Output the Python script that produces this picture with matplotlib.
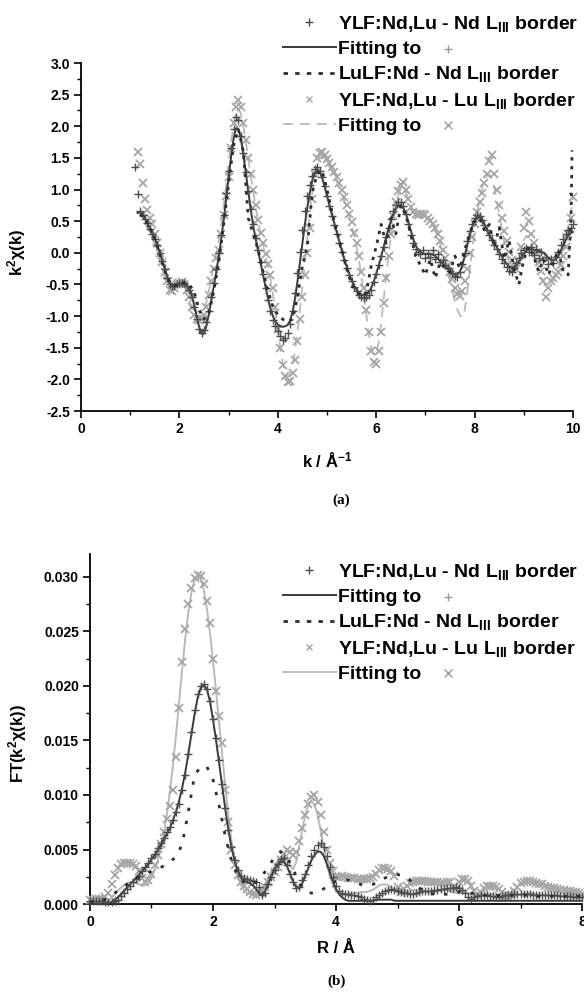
import numpy as np
import matplotlib
matplotlib.use("Agg")
import matplotlib.pyplot as plt
from matplotlib.lines import Line2D
from matplotlib.ticker import MultipleLocator, FormatStrFormatter
from matplotlib.transforms import IdentityTransform

plt.rcParams['font.family'] = ['Liberation Sans', 'DejaVu Sans']
plt.rcParams['font.weight'] = 'bold'
plt.rcParams['mathtext.fontset'] = 'custom'
plt.rcParams['mathtext.rm'] = 'Liberation Sans:bold'
plt.rcParams['mathtext.it'] = 'Liberation Sans:bold'
plt.rcParams['mathtext.bf'] = 'Liberation Sans:bold'
plt.rcParams['mathtext.default'] = 'rm'
plt.rcParams['axes.unicode_minus'] = False

# ---------------- (a) k-space, step 0.05 A^-1 ----------------
# YLF:Nd,Lu - Nd L_III data (+), starts at k = 1.10
nd_k_start = 1.10
nd_k_data = [
    1.36, 0.93, 0.66, 0.60, 0.54, 0.47, 0.38, 0.30, 0.22, 0.12,
    0.00, -0.13, -0.26, -0.40, -0.49, -0.52, -0.53, -0.50, -0.48, -0.47,
    -0.48, -0.52, -0.58, -0.70, -0.86, -1.04, -1.20, -1.26, -1.22, -1.10,
    -0.92, -0.70, -0.48, -0.26, 0.00, 0.28, 0.60, 0.95, 1.30, 1.65,
    1.95, 2.15, 2.10, 1.85, 1.58, 1.28, 0.98, 0.70, 0.45, 0.24,
    0.05, -0.15, -0.34, -0.55, -0.75, -0.92, -1.06, -1.16, -1.24, -1.32,
    -1.38, -1.35, -1.26, -1.12, -0.92, -0.64, -0.32, 0.02, 0.36, 0.66,
    0.90, 1.08, 1.22, 1.32, 1.36, 1.30, 1.20, 1.06, 0.90, 0.74,
    0.58, 0.44, 0.30, 0.16, 0.02, -0.12, -0.24, -0.35, -0.45, -0.54,
    -0.60, -0.66, -0.70, -0.72, -0.70, -0.66, -0.58, -0.46, -0.34, -0.20,
    -0.05, 0.10, 0.25, 0.40, 0.54, 0.66, 0.75, 0.80, 0.80, 0.74,
    0.62, 0.45, 0.28, 0.15, 0.06, 0.02, -0.02, 0.05, -0.08, 0.00,
    -0.06, 0.04, -0.10, -0.02, -0.15, -0.12, -0.20, -0.24, -0.28, -0.32,
    -0.36, -0.38, -0.30, -0.18, 0.00, 0.18, 0.34, 0.46, 0.55, 0.60,
    0.58, 0.52, 0.44, 0.36, 0.28, 0.20, 0.12, 0.06, -0.02, -0.10,
    -0.16, -0.22, -0.28, -0.30, -0.24, -0.16, -0.08, 0.00, 0.04, 0.08,
    0.02, 0.10, -0.04, 0.06, -0.08, 0.02, -0.12, -0.06, -0.18, -0.10,
    -0.16, -0.06, 0.02, 0.12, 0.22, 0.30, 0.36, 0.40, 0.45,
]

# fit to the + data, starts at k = 1.15
nd_k_fit_start = 1.15
nd_k_fit = [
    0.63, 0.64, 0.62, 0.55, 0.47, 0.39, 0.31, 0.24, 0.13, 0.01,
    -0.12, -0.25, -0.38, -0.47, -0.51, -0.52, -0.51, -0.50, -0.49, -0.49,
    -0.51, -0.56, -0.66, -0.82, -1.00, -1.17, -1.28, -1.27, -1.15, -0.96,
    -0.74, -0.52, -0.30, -0.05, 0.22, 0.52, 0.85, 1.18, 1.52, 1.80,
    1.97, 1.96, 1.80, 1.55, 1.26, 0.96, 0.68, 0.43, 0.22, 0.03,
    -0.16, -0.35, -0.54, -0.72, -0.88, -1.00, -1.08, -1.13, -1.16, -1.17,
    -1.16, -1.14, -1.07, -0.93, -0.72, -0.45, -0.15, 0.15, 0.45, 0.72,
    0.95, 1.14, 1.26, 1.31, 1.28, 1.19, 1.05, 0.90, 0.75, 0.60,
    0.46, 0.32, 0.18, 0.04, -0.10, -0.22, -0.33, -0.43, -0.52, -0.58,
    -0.63, -0.66, -0.67, -0.66, -0.62, -0.55, -0.45, -0.33, -0.20, -0.06,
    0.09, 0.24, 0.38, 0.51, 0.62, 0.70, 0.74, 0.75, 0.71, 0.63,
    0.50, 0.36, 0.23, 0.12, 0.05, 0.01, -0.01, -0.02, -0.02, -0.02,
    -0.03, -0.05, -0.09, -0.13, -0.17, -0.21, -0.25, -0.29, -0.32, -0.34,
    -0.34, -0.30, -0.20, -0.05, 0.12, 0.28, 0.41, 0.51, 0.56, 0.57,
    0.53, 0.45, 0.36, 0.28, 0.21, 0.15, 0.09, 0.02, -0.05, -0.12,
    -0.17, -0.21, -0.23, -0.23, -0.20, -0.14, -0.07, -0.01, 0.03, 0.05,
    0.06, 0.05, 0.04, 0.03, 0.02, 0.00, -0.04, -0.08, -0.11, -0.12,
    -0.10, -0.05, 0.03, 0.12, 0.20, 0.27, 0.31, 0.33,
]

# LuLF:Nd - Nd L_III (dotted), step 0.1 from k = 1.2, plus the steep end
lulf_k_start = 1.2
lulf_k = [
    0.60, 0.55, 0.40, 0.22, -0.02, -0.28, -0.46, -0.52, -0.50, -0.47,
    -0.50, -0.62, -0.90, -1.05, -0.95, -0.60, -0.15, 0.45, 1.10, 1.70,
    1.95, 1.60, 0.55, 0.30, 0.05, -0.30, -0.60, -0.85, -0.98, -1.05,
    -1.08, -1.05, -0.70, -0.20, 0.10, 0.95, 1.25, 1.30, 1.00, 0.65,
    0.35, 0.05, -0.25, -0.50, -0.62, -0.68, -0.62, -0.20, 0.10, 0.45,
    0.15, 0.55, 0.30, 0.75, 0.60, 0.30, -0.05, -0.20, -0.35, -0.10,
    -0.40, -0.15, -0.25, -0.30, -0.05, -0.25, 0.05, 0.30, 0.50, 0.55,
    0.35, 0.45, 0.10, 0.40, -0.10, 0.20, -0.25, -0.50, -0.10, 0.10,
    -0.05, -0.30, -0.10, -0.35, -0.15, 0.05, -0.30, -0.35,
]
lulf_k_tail_x = [9.96, 9.98]
lulf_k_tail = [0.55, 1.62]

# YLF:Nd,Lu - Lu L_III data (x), starts at k = 1.15
lu_k_start = 1.15
lu_k_data = [
    1.60, 1.40, 1.10, 0.85, 0.68, 0.55, 0.46, 0.30, 0.15, 0.00,
    -0.15, -0.30, -0.45, -0.58, -0.60, -0.56, -0.50, -0.47, -0.46, -0.50,
    -0.58, -0.70, -0.85, -0.98, -1.04, -1.06, -1.05, -0.98, -0.85, -0.66,
    -0.45, -0.25, -0.08, 0.05, 0.30, 0.60, 0.90, 1.20, 1.65, 2.05,
    2.30, 2.42, 2.30, 2.05, 1.78, 1.50, 1.25, 1.00, 0.75, 0.52,
    0.32, 0.15, -0.02, -0.18, -0.35, -0.55, -0.85, -1.20, -1.50, -1.78,
    -1.95, -2.04, -2.02, -1.90, -1.70, -1.40, -1.05, -0.70, -0.35, 0.00,
    0.40, 0.85, 1.25, 1.50, 1.58, 1.60, 1.55, 1.48, 1.42, 1.35,
    1.27, 1.20, 1.10, 1.00, 0.88, 0.75, 0.62, 0.48, 0.32, 0.15,
    -0.05, -0.30, -0.55, -0.90, -1.25, -1.55, -1.72, -1.75, -1.55, -1.25,
    -0.80, -0.40, -0.05, 0.30, 0.58, 0.80, 0.98, 1.08, 1.12, 1.00,
    0.85, 0.72, 0.65, 0.62, 0.60, 0.62, 0.62, 0.60, 0.55, 0.50,
    0.45, 0.40, 0.30, 0.18, 0.05, -0.08, -0.20, -0.30, -0.42, -0.55,
    -0.65, -0.68, -0.60, -0.45, -0.25, 0.00, 0.25, 0.45, 0.65, 0.80,
    0.95, 1.10, 1.25, 1.45, 1.55, 1.25, 1.00, 0.75, 0.55, 0.35,
    0.18, 0.02, -0.12, -0.22, -0.25, -0.15, 0.10, 0.40, 0.65, 0.50,
    0.30, 0.15, 0.00, -0.15, -0.28, -0.45, -0.70, -0.55, -0.45, -0.40,
    -0.35, -0.30, -0.20, -0.05, 0.10, 0.30, 0.55, 0.88,
]

# fit to the x data, starts at k = 1.30
lu_k_fit_start = 1.30
lu_k_fit = [
    0.47, 0.40, 0.32, 0.22, 0.11, 0.00, -0.12, -0.25, -0.37, -0.47,
    -0.54, -0.57, -0.56, -0.52, -0.49, -0.49, -0.53, -0.62, -0.75, -0.88,
    -0.98, -1.04, -1.05, -1.01, -0.92, -0.78, -0.60, -0.40, -0.20, 0.00,
    0.20, 0.45, 0.75, 1.08, 1.42, 1.75, 2.03, 2.22, 2.28, 2.20,
    2.00, 1.75, 1.48, 1.22, 0.97, 0.73, 0.50, 0.30, 0.12, -0.05,
    -0.22, -0.42, -0.65, -0.92, -1.22, -1.50, -1.74, -1.90, -1.96, -1.92,
    -1.78, -1.55, -1.25, -0.90, -0.52, -0.14, 0.25, 0.62, 0.95, 1.22,
    1.40, 1.50, 1.52, 1.49, 1.43, 1.36, 1.29, 1.21, 1.13, 1.04,
    0.94, 0.83, 0.71, 0.58, 0.44, 0.28, 0.10, -0.12, -0.38, -0.68,
    -0.98, -1.28, -1.50, -1.62, -1.60, -1.42, -1.12, -0.75, -0.38, -0.04,
    0.27, 0.54, 0.76, 0.92, 1.02, 1.04, 0.97, 0.86, 0.75, 0.67,
    0.62, 0.60, 0.60, 0.60, 0.58, 0.55, 0.50, 0.44, 0.36, 0.26,
    0.14, 0.01, -0.13, -0.28, -0.44, -0.60, -0.76, -0.90, -0.99, -1.02,
    -0.90, -0.62, -0.28, 0.05, 0.36, 0.62, 0.84, 1.02, 1.15, 1.22,
    1.24, 1.18, 1.04, 0.84, 0.61, 0.38, 0.17, -0.01, -0.15, -0.24,
    -0.27, -0.22, -0.10, 0.06, 0.20, 0.27, 0.25, 0.16, 0.03, -0.11,
    -0.25, -0.37, -0.46, -0.51, -0.52, -0.49, -0.43, -0.35, -0.25, -0.13,
    0.02, 0.20, 0.40, 0.62, 0.85,
]

# ---------------- (b) R-space, step 0.05 A from R = 0 ----------------
nd_r_data = [
    0.0003, 0.0003, 0.0003, 0.0003, 0.0003, 0.0002, 0.0002, 0.0002, 0.0003, 0.0004,
    0.0007, 0.0010, 0.0014, 0.0017, 0.0020, 0.0023, 0.0026, 0.0030, 0.0034, 0.0038,
    0.0042, 0.0046, 0.0051, 0.0056, 0.0061, 0.0066, 0.0071, 0.0077, 0.0084, 0.0092,
    0.0105, 0.0118, 0.0138, 0.0158, 0.0178, 0.0193, 0.0200, 0.0202, 0.0197, 0.0186,
    0.0170, 0.0152, 0.0132, 0.0110, 0.0088, 0.0068, 0.0052, 0.0040, 0.0031, 0.0026,
    0.0024, 0.0023, 0.0022, 0.0021, 0.0020, 0.0016, 0.0008, 0.0010, 0.0018, 0.0025,
    0.0031, 0.0037, 0.0041, 0.0042, 0.0036, 0.0028, 0.0020, 0.0015, 0.0016, 0.0022,
    0.0028, 0.0036, 0.0044, 0.0050, 0.0054, 0.0056, 0.0052, 0.0044, 0.0034, 0.0025,
    0.0017, 0.0012, 0.0010, 0.0009, 0.0009, 0.0008, 0.0008, 0.0007, 0.0006, 0.0005,
    0.0004, 0.0003, 0.0004, 0.0006, 0.0008, 0.0010, 0.0012, 0.0013, 0.0014, 0.0013,
    0.0012, 0.0011, 0.0010, 0.0010, 0.0009, 0.0009, 0.0010, 0.0011, 0.0012, 0.0012,
    0.0012, 0.0012, 0.0013, 0.0013, 0.0014, 0.0014, 0.0015, 0.0015, 0.0015, 0.0016,
    0.0015, 0.0013, 0.0010, 0.0006, 0.0005, 0.0006, 0.0007, 0.0008, 0.0008, 0.0008,
    0.0007, 0.0007, 0.0006, 0.0006, 0.0007, 0.0008, 0.0008, 0.0009, 0.0009, 0.0009,
    0.0009, 0.0009, 0.0009, 0.0009, 0.0008, 0.0008, 0.0008, 0.0008, 0.0008, 0.0008,
    0.0008, 0.0008, 0.0008, 0.0007, 0.0007, 0.0007, 0.0007, 0.0006, 0.0006, 0.0006,
    0.0006,
]

nd_r_fit = [
    0.0000, 0.0000, 0.0000, 0.0000, 0.0000, 0.0000, 0.0001, 0.0002, 0.0004, 0.0006,
    0.0009, 0.0012, 0.0015, 0.0018, 0.0021, 0.0024, 0.0027, 0.0030, 0.0033, 0.0037,
    0.0041, 0.0045, 0.0049, 0.0054, 0.0059, 0.0064, 0.0070, 0.0077, 0.0085, 0.0095,
    0.0107, 0.0121, 0.0138, 0.0156, 0.0174, 0.0189, 0.0198, 0.0201, 0.0197, 0.0186,
    0.0169, 0.0150, 0.0129, 0.0108, 0.0087, 0.0068, 0.0052, 0.0040, 0.0031, 0.0025,
    0.0022, 0.0020, 0.0019, 0.0017, 0.0014, 0.0010, 0.0008, 0.0012, 0.0019, 0.0026,
    0.0032, 0.0036, 0.0039, 0.0039, 0.0035, 0.0028, 0.0021, 0.0016, 0.0015, 0.0019,
    0.0026, 0.0033, 0.0040, 0.0045, 0.0048, 0.0048, 0.0044, 0.0037, 0.0029, 0.0021,
    0.0014, 0.0009, 0.0006, 0.0004, 0.0003, 0.0003, 0.0003, 0.0003, 0.0003, 0.0003,
    0.0003, 0.0003, 0.0003, 0.0004, 0.0004, 0.0004, 0.0004, 0.0004, 0.0004, 0.0003,
    0.0003, 0.0003, 0.0003, 0.0003, 0.0003, 0.0003, 0.0003, 0.0003, 0.0003, 0.0003,
    0.0003, 0.0003, 0.0003, 0.0003, 0.0003, 0.0003, 0.0003, 0.0003, 0.0003, 0.0003,
    0.0003, 0.0003, 0.0003, 0.0003, 0.0003, 0.0003, 0.0003, 0.0003, 0.0003, 0.0003,
    0.0003, 0.0003, 0.0003, 0.0003, 0.0003, 0.0003, 0.0003, 0.0003, 0.0003, 0.0003,
    0.0003, 0.0003, 0.0003, 0.0003, 0.0003, 0.0003, 0.0003, 0.0003, 0.0003, 0.0003,
    0.0003, 0.0003, 0.0003, 0.0003, 0.0003, 0.0003, 0.0003, 0.0003, 0.0003, 0.0003,
    0.0003,
]

# LuLF:Nd dotted, step 0.1 from R = 0
lulf_r = [
    0.0002, 0.0002, 0.0003, 0.0006, 0.0010, 0.0014, 0.0018, 0.0022, 0.0025, 0.0028,
    0.0030, 0.0032, 0.0035, 0.0039, 0.0043, 0.0055, 0.0085, 0.0118, 0.0126, 0.0126,
    0.0114, 0.0090, 0.0062, 0.0040, 0.0026, 0.0020, 0.0018, 0.0020, 0.0026, 0.0034,
    0.0043, 0.0048, 0.0044, 0.0032, 0.0020, 0.0012, 0.0010, 0.0011, 0.0014, 0.0018,
    0.0021, 0.0022, 0.0022, 0.0020, 0.0018, 0.0017, 0.0018, 0.0021, 0.0024, 0.0026,
    0.0027, 0.0026, 0.0022, 0.0017, 0.0013, 0.0010, 0.0009, 0.0009, 0.0009, 0.0010,
    0.0011, 0.0011, 0.0010, 0.0009, 0.0008, 0.0008, 0.0008, 0.0008, 0.0008, 0.0008,
    0.0008, 0.0008, 0.0007, 0.0007, 0.0007, 0.0007, 0.0007, 0.0007, 0.0007, 0.0007,
    0.0007,
]

lu_r_data = [
    0.0004, 0.0004, 0.0005, 0.0005, 0.0005, 0.0006, 0.0010, 0.0018, 0.0027, 0.0033,
    0.0037, 0.0038, 0.0038, 0.0038, 0.0037, 0.0035, 0.0030, 0.0024, 0.0020, 0.0022,
    0.0028, 0.0036, 0.0045, 0.0055, 0.0066, 0.0078, 0.0090, 0.0105, 0.0135, 0.0180,
    0.0222, 0.0252, 0.0275, 0.0290, 0.0299, 0.0302, 0.0301, 0.0293, 0.0278, 0.0258,
    0.0225, 0.0195, 0.0172, 0.0148, 0.0105, 0.0075, 0.0050, 0.0036, 0.0027, 0.0020,
    0.0017, 0.0014, 0.0011, 0.0009, 0.0008, 0.0010, 0.0012, 0.0016, 0.0020, 0.0025,
    0.0029, 0.0034, 0.0040, 0.0046, 0.0050, 0.0048, 0.0045, 0.0048, 0.0058, 0.0070,
    0.0082, 0.0092, 0.0098, 0.0100, 0.0094, 0.0082, 0.0066, 0.0050, 0.0038, 0.0030,
    0.0025, 0.0025, 0.0026, 0.0025, 0.0024, 0.0024, 0.0024, 0.0023, 0.0023, 0.0023,
    0.0023, 0.0024, 0.0025, 0.0028, 0.0031, 0.0033, 0.0033, 0.0032, 0.0030, 0.0026,
    0.0016, 0.0011, 0.0014, 0.0017, 0.0019, 0.0020, 0.0021, 0.0021, 0.0021, 0.0021,
    0.0020, 0.0020, 0.0020, 0.0020, 0.0019, 0.0019, 0.0020, 0.0020, 0.0016, 0.0014,
    0.0020, 0.0023, 0.0023, 0.0021, 0.0017, 0.0012, 0.0008, 0.0010, 0.0015, 0.0017,
    0.0017, 0.0017, 0.0016, 0.0014, 0.0011, 0.0008, 0.0006, 0.0008, 0.0012, 0.0016,
    0.0019, 0.0020, 0.0021, 0.0021, 0.0020, 0.0019, 0.0018, 0.0018, 0.0017, 0.0016,
    0.0015, 0.0015, 0.0014, 0.0013, 0.0013, 0.0012, 0.0012, 0.0011, 0.0011, 0.0010,
    0.0009,
]

lu_r_fit = [
    0.0000, 0.0000, 0.0000, 0.0000, 0.0000, 0.0001, 0.0003, 0.0006, 0.0009, 0.0012,
    0.0015, 0.0017, 0.0019, 0.0020, 0.0020, 0.0019, 0.0018, 0.0017, 0.0017, 0.0019,
    0.0024, 0.0031, 0.0040, 0.0051, 0.0065, 0.0082, 0.0103, 0.0128, 0.0156, 0.0186,
    0.0216, 0.0244, 0.0268, 0.0286, 0.0297, 0.0301, 0.0298, 0.0288, 0.0271, 0.0249,
    0.0223, 0.0195, 0.0166, 0.0137, 0.0108, 0.0081, 0.0058, 0.0040, 0.0027, 0.0018,
    0.0013, 0.0010, 0.0009, 0.0009, 0.0010, 0.0012, 0.0015, 0.0019, 0.0024, 0.0030,
    0.0035, 0.0040, 0.0043, 0.0044, 0.0040, 0.0035, 0.0032, 0.0038, 0.0052, 0.0068,
    0.0082, 0.0091, 0.0094, 0.0091, 0.0082, 0.0068, 0.0052, 0.0037, 0.0025, 0.0017,
    0.0012, 0.0010, 0.0009, 0.0009, 0.0009, 0.0010, 0.0010, 0.0010, 0.0011, 0.0011,
    0.0011, 0.0012, 0.0013, 0.0015, 0.0017, 0.0018, 0.0018, 0.0017, 0.0015, 0.0013,
    0.0011, 0.0010, 0.0010, 0.0011, 0.0012, 0.0013, 0.0013, 0.0013, 0.0012, 0.0012,
    0.0011, 0.0011, 0.0011, 0.0012, 0.0012, 0.0013, 0.0013, 0.0012, 0.0011, 0.0010,
    0.0010, 0.0011, 0.0011, 0.0010, 0.0009, 0.0008, 0.0007, 0.0007, 0.0008, 0.0009,
    0.0009, 0.0009, 0.0008, 0.0007, 0.0006, 0.0005, 0.0005, 0.0006, 0.0007, 0.0008,
    0.0009, 0.0010, 0.0010, 0.0010, 0.0010, 0.0009, 0.0009, 0.0009, 0.0008, 0.0008,
    0.0008, 0.0008, 0.0007, 0.0007, 0.0007, 0.0007, 0.0006, 0.0006, 0.0006, 0.0006,
    0.0006,
]

labels = [r'YLF:Nd,Lu - Nd L$_{\rm III}$ border', 'Fitting to',
          r'LuLF:Nd - Nd L$_{\rm III}$ border', r'YLF:Nd,Lu - Lu L$_{\rm III}$ border',
          'Fitting to']

DARK = '#4d4d4d'
FIT_DARK = '#3a3a3a'
DOTS = '#2e2e2e'
LIGHT = '#a6a6a6'
FIT_LIGHT = '#b9b9b9'


def grid(start, step, values):
    return np.round(start + step * np.arange(len(values)), 3)


def style_axes(ax):
    ax.spines['top'].set_visible(False)
    ax.spines['right'].set_visible(False)
    for s in ('left', 'bottom'):
        ax.spines[s].set_linewidth(1.3)
    ax.tick_params(which='major', direction='out', length=5, width=1.2,
                   labelsize=10, pad=3)
    ax.tick_params(which='minor', direction='out', length=3, width=1.0)
    for t in ax.get_xticklabels() + ax.get_yticklabels():
        t.set_fontweight('bold')


fig = plt.figure(figsize=(5.84, 9.94), dpi=100)

# ---------------- panel (a) ----------------
ax1 = fig.add_axes([0.1387, 0.5865, 0.8425, 0.3501])
ax1.plot(grid(lu_k_fit_start, 0.05, lu_k_fit), lu_k_fit, color=FIT_LIGHT, lw=1.3,
         ls=(0, (5.5, 3.9)), zorder=2, clip_on=False)
ax1.plot(grid(lu_k_start, 0.05, lu_k_data), lu_k_data, ls='none', marker='x',
         ms=6, mew=1.3, color=LIGHT, zorder=3, clip_on=False)
ax1.plot(grid(nd_k_fit_start, 0.05, nd_k_fit), nd_k_fit, color=FIT_DARK, lw=1.4,
         zorder=4, clip_on=False)
ax1.plot(grid(nd_k_start, 0.05, nd_k_data), nd_k_data, ls='none', marker='+',
         ms=6, mew=1.0, color=DARK, zorder=5, clip_on=False)
ax1.plot(list(grid(lulf_k_start, 0.1, lulf_k)) + lulf_k_tail_x, lulf_k + lulf_k_tail,
         color=DOTS, lw=2.0, ls=(0, (1.2, 2.0)), zorder=6, clip_on=False)

ax1.set_xlim(0, 10)
ax1.set_ylim(-2.5, 3.0)
ax1.xaxis.set_major_locator(MultipleLocator(2))
ax1.xaxis.set_minor_locator(MultipleLocator(1))
ax1.yaxis.set_major_locator(MultipleLocator(0.5))
ax1.yaxis.set_minor_locator(MultipleLocator(0.25))
ax1.yaxis.set_major_formatter(FormatStrFormatter('%.1f'))
style_axes(ax1)
ax1.set_xlabel(r'k / Å$^{-1}$', fontsize=12, fontweight='bold')
ax1.set_ylabel(r'k$^2$χ(k)', fontsize=12, fontweight='bold')
ax1.xaxis.set_label_coords(0.5, -0.115)
ax1.yaxis.set_label_coords(-0.108, 0.455)

# ---------------- panel (b) ----------------
ax2 = fig.add_axes([0.1541, 0.0905, 0.8425, 0.3522])
ax2.plot(grid(0, 0.05, lu_r_fit), lu_r_fit, color=FIT_LIGHT, lw=1.4, zorder=2,
         clip_on=False)
ax2.plot(grid(0, 0.05, lu_r_data), lu_r_data, ls='none', marker='x', ms=6,
         mew=1.3, color=LIGHT, zorder=3, clip_on=False)
ax2.plot(grid(0, 0.05, nd_r_fit), nd_r_fit, color=FIT_DARK, lw=1.4, zorder=4,
         clip_on=False)
ax2.plot(grid(0, 0.05, nd_r_data), nd_r_data, ls='none', marker='+', ms=6,
         mew=1.0, color=DARK, zorder=5, clip_on=False)
ax2.plot(grid(0, 0.1, lulf_r), lulf_r, color=DOTS, lw=2.0, ls=(0, (1.2, 3.6)),
         zorder=6, clip_on=False)

ax2.set_xlim(0, 8)
ax2.set_ylim(0, 0.0321)
ax2.xaxis.set_major_locator(MultipleLocator(2))
ax2.xaxis.set_minor_locator(MultipleLocator(1))
ax2.yaxis.set_major_locator(MultipleLocator(0.005))
ax2.yaxis.set_minor_locator(MultipleLocator(0.0025))
ax2.yaxis.set_major_formatter(FormatStrFormatter('%.3f'))
style_axes(ax2)
ax2.set_xlabel('R / Å', fontsize=12, fontweight='bold')
ax2.set_ylabel(r'FT(k$^2$χ(k))', fontsize=12, fontweight='bold')
ax2.xaxis.set_label_coords(0.5, -0.106)
ax2.yaxis.set_label_coords(-0.124, 0.457)

fig.text(341 / 584, 1 - 500 / 994, '(a)', family='Liberation Serif',
         fontweight='bold', fontsize=11, ha='center', va='center')
fig.text(337 / 584, 1 - 981 / 994, '(b)', family='Liberation Serif',
         fontweight='bold', fontsize=11, ha='center', va='center')


# ---------------- legends ----------------
def make_legend(ax, lu_fit_dashed, top):
    h = [Line2D([], [], ls='none', marker='+', ms=6, mew=1.0, color=DARK),
         Line2D([], [], color=FIT_DARK, lw=1.4),
         Line2D([], [], color=DOTS, lw=2.0, ls=(0, (1.6, 2.6))),
         Line2D([], [], ls='none', marker='x', ms=5, mew=1.0, color=LIGHT),
         Line2D([], [], color=FIT_LIGHT, lw=1.3,
                ls=(0, (5.5, 3.9)) if lu_fit_dashed else '-')]
    leg = ax.legend(h, labels, loc='upper left', bbox_to_anchor=(283 / 584, top),
                    bbox_transform=fig.transFigure, frameon=False, fontsize=14,
                    handlelength=2.7, handletextpad=0.15, labelspacing=0.33,
                    borderpad=0, borderaxespad=0)
    for t in leg.get_texts():
        t.set_fontweight('bold')
    return leg


leg1 = make_legend(ax1, True, 1 - 14 / 994)
leg2 = make_legend(ax2, False, 1 - 562 / 994)

fig.canvas.draw()
renderer = fig.canvas.get_renderer()
for leg in (leg1, leg2):
    texts = leg.get_texts()
    for idx, mk, col in ((1, '+', DARK), (4, 'x', LIGHT)):
        bb = texts[idx].get_window_extent(renderer)
        fig.add_artist(Line2D([bb.x1 + 26], [(bb.y0 + bb.y1) / 2 + 1],
                              transform=IdentityTransform(), ls='none',
                              marker=mk, ms=6, mew=1.0, color='#9a9a9a'))

fig.savefig('out.png', dpi=100)
